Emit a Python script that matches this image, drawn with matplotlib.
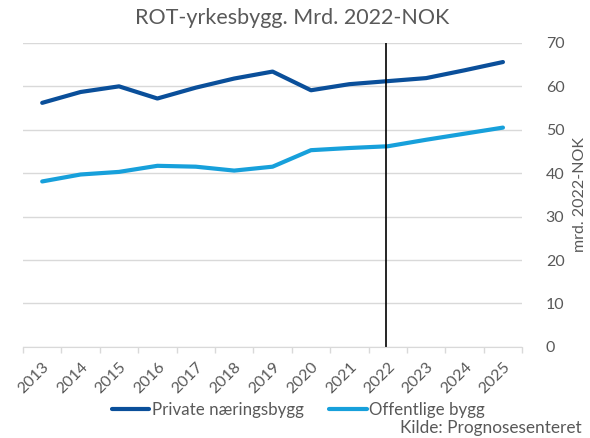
import matplotlib
matplotlib.use("Agg")
import matplotlib.pyplot as plt
import numpy as np

years = ["2013", "2014", "2015", "2016", "2017", "2018", "2019",
         "2020", "2021", "2022", "2023", "2024", "2025"]
private = [56.2, 58.7, 60.0, 57.2, 59.7, 61.8, 63.4, 59.1, 60.5, 61.2, 61.9, 63.7, 65.6]
public = [38.1, 39.7, 40.3, 41.7, 41.5, 40.6, 41.5, 45.3, 45.8, 46.2, 47.7, 49.1, 50.5]
yticks = [0, 10, 20, 30, 40, 50, 60, 70]

plt.rcParams['font.family'] = ['Lato', 'DejaVu Sans']
gray = "#595959"

fig = plt.figure(figsize=(5.9, 4.38), dpi=100)
ax = fig.add_axes([0.039, 0.208, 0.846, 0.694])

x = np.arange(len(years))
ax.plot(x, private, color="#0A4F9A", lw=3.0, solid_capstyle="round",
        label="Private næringsbygg")
ax.plot(x, public, color="#17A0DB", lw=3.0, solid_capstyle="round",
        label="Offentlige bygg")
ax.axvline(8.96, color="black", lw=1.2)

ax.set_xlim(-0.5, len(years) - 0.5)
ax.set_ylim(0, 70)
ax.set_yticks(yticks)
ax.yaxis.tick_right()
ax.yaxis.set_label_position("right")
ax.tick_params(axis="y", length=0, labelsize=11.5, labelcolor=gray, pad=17)
ax.set_ylabel("mrd. 2022-NOK", fontsize=11.5, color=gray, labelpad=6)
ax.grid(axis="y", color="#D9D9D9", lw=1)
ax.set_axisbelow(True)

ax.set_xticks(x)
ax.set_xticklabels(years, rotation=45, ha="right", rotation_mode="anchor")
ax.set_xticks(np.arange(-0.5, len(years)), minor=True)
ax.tick_params(axis="x", which="major", length=0, labelsize=11.5, labelcolor=gray, pad=9)
ax.tick_params(axis="x", which="minor", length=4, color="#D9D9D9", width=1)

for s in ["top", "left", "right"]:
    ax.spines[s].set_visible(False)
ax.spines["bottom"].set_color("#D9D9D9")

fig.text(0.496, 0.958, "ROT-yrkesbygg. Mrd. 2022-NOK", ha="center", va="center",
         fontsize=15.5, color=gray)

fig.legend(loc="center", bbox_to_anchor=(0.506, 0.064), ncol=2, frameon=False,
           fontsize=12.2, labelcolor=gray, handlelength=2.2, handletextpad=0.15,
           columnspacing=1.5, borderpad=0)
fig.text(0.986, 0.022, "Kilde: Prognosesenteret", ha="right", va="center",
         fontsize=12.4, color=gray)

fig.savefig("out.png", dpi=100)
